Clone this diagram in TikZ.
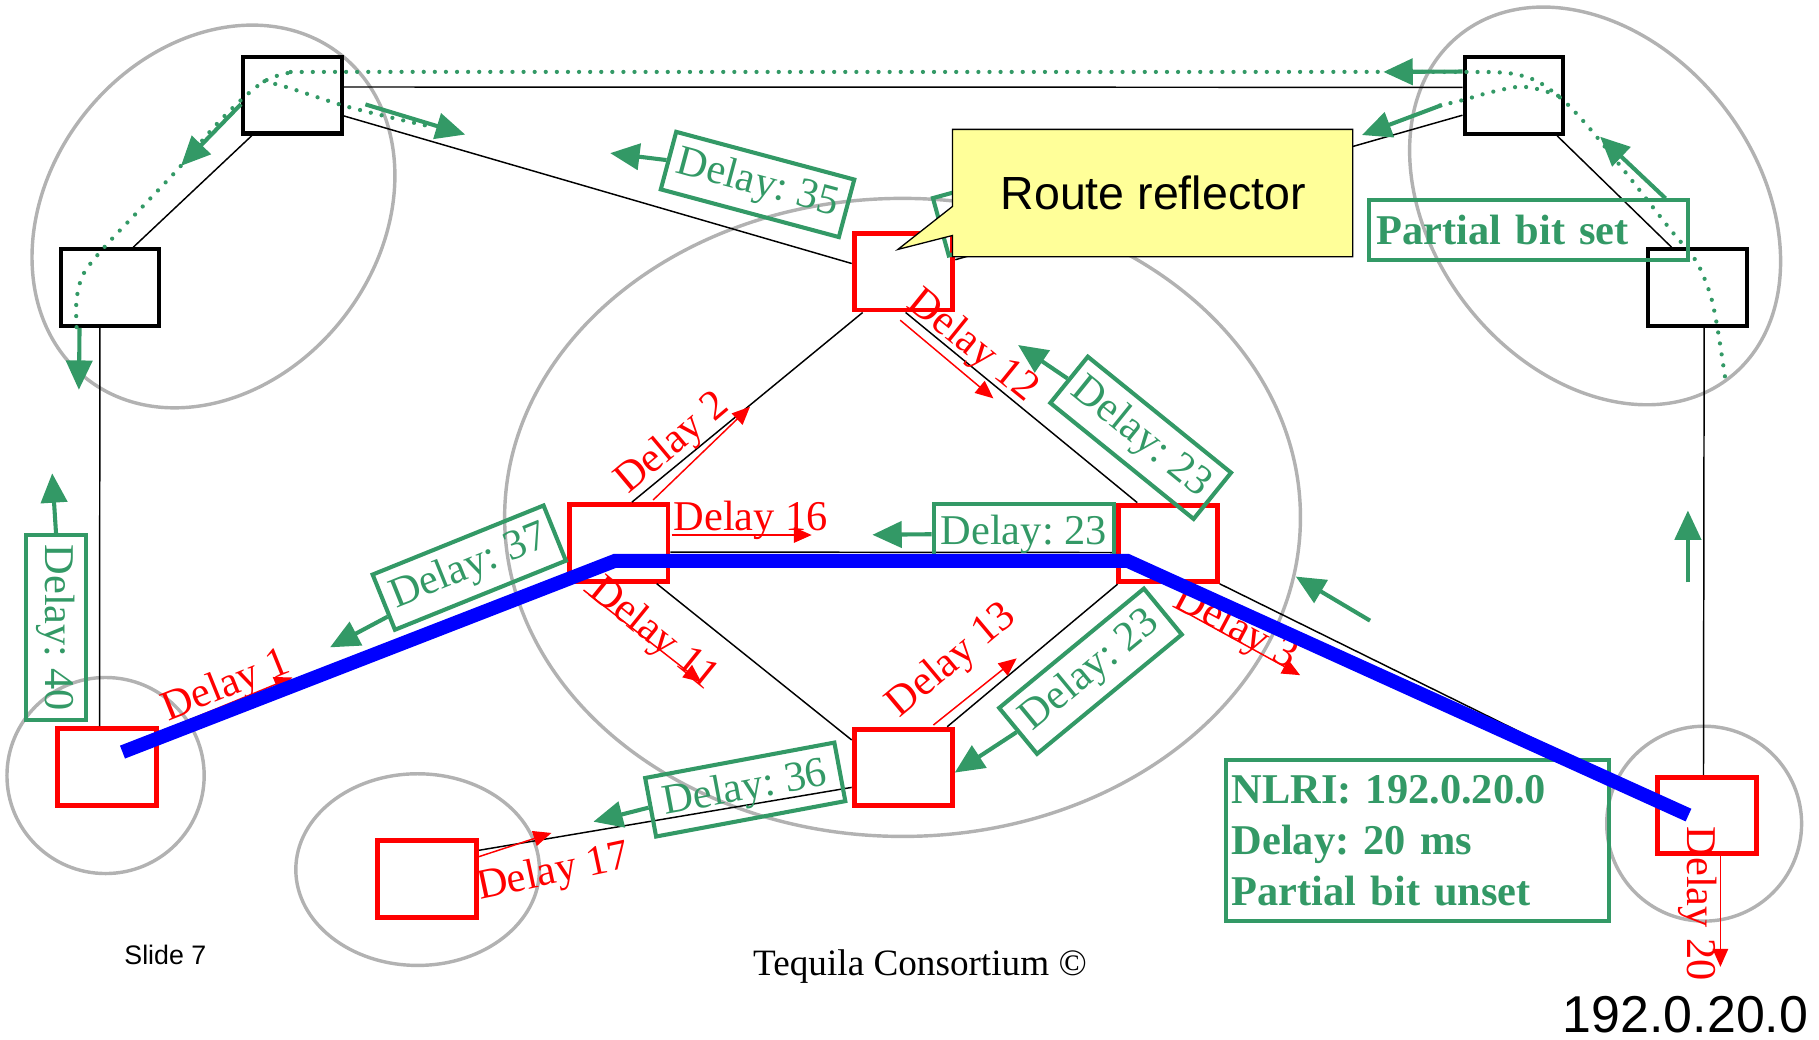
\documentclass[tikz,border=0pt]{standalone}
\usepackage{fontspec}
\setmainfont{Liberation Serif}
\newfontfamily\arialfont{Liberation Sans}
\usepackage{xcolor}
\definecolor{delaygreen}{RGB}{51,153,102}
\definecolor{domaingray}{RGB}{178,178,178}
\definecolor{rryellow}{RGB}{255,255,153}
\usetikzlibrary{arrows.meta}
\newcommand{\delayfont}{\fontsize{26pt}{31.3pt}\selectfont\frenchspacing}
\tikzset{
	cluster/.style={draw=domaingray, line width=2.1pt},
	router/.style={draw=black, line width=2.5pt, minimum width=60.5pt, minimum height=47pt, inner sep=0pt},
	rrouter/.style={router, draw=red, line width=3pt},
	linkline/.style={draw=black, line width=0.9pt},
	delaylabel/.style={text=red, font=\delayfont, inner sep=0pt},
	redarrow/.style={draw=red, line width=0.9pt, -{Triangle[length=11pt,width=9.5pt]}},
	delaybox/.style={draw=delaygreen, line width=2.5pt, text=delaygreen, font=\delayfont, minimum width=113pt, minimum height=36.5pt, inner sep=0pt},
	greenarrow/.style={draw=delaygreen, line width=2.5pt, -{Triangle[length=18pt,width=16pt]}},
	updates/.style={draw=delaygreen, line width=2.6pt, line cap=round, dash pattern=on 0pt off 6.8pt},
	infobox/.style={draw=delaygreen, line width=2.5pt, text=delaygreen, font=\bfseries\delayfont, align=left, inner ysep=0pt},
	bestpath/.style={draw=blue, line width=8.5pt},
	plaintext/.style={inner sep=0pt, anchor=base west}
}

\begin{document}
\begin{tikzpicture}[x=0.025cm, y=-0.025cm]
	\useasboundingbox (0,0) rectangle (1568,896);
	
	% Domains
	\draw[cluster, rotate around={52:(184,186.6)}] (184,186.6) ellipse [x radius=177.5, y radius=142];
	\draw[cluster] (778,446) ellipse [x radius=343, y radius=275];
	\draw[cluster, rotate around={-52:(1375,177.5)}] (1375,177.5) ellipse [x radius=188, y radius=140];
	\draw[cluster] (91,668.5) ellipse [x radius=85, y radius=84.5];
	\draw[cluster] (360,749.6) ellipse [x radius=105, y radius=82.6];
	\draw[cluster] (1469,710) ellipse [x radius=84, y radius=84];
	
	% Routers
	\node[router] (B1) at (252,82) {};
	\node[router] (B2) at (94.8,247.9) {};
	\node[router] (B3) at (1305,82.3) {};
	\node[router] (B4) at (1463.5,247.9) {};
	\node[rrouter] (R1) at (92,661) {};
	\node[rrouter] (R2) at (778.8,234.2) {};
	\node[rrouter] (R3) at (533.3,468) {};
	\node[rrouter] (R4) at (1006.8,468.4) {};
	\node[rrouter] (R5) at (778.8,661.6) {};
	\node[rrouter] (R6) at (368.3,757.7) {};
	\node[rrouter] (R7) at (1471.5,703) {};
	
	% Links
	\draw[linkline] (B1.9) -- (B3.171);
	\draw[linkline] (B1.338) -- (R2.171);
	\draw[linkline] (B2.60) -- (B1.225);
	\draw[linkline] (B2.256) -- (R1.100);
	\draw[linkline] (B3.201) -- (R2.13);
	\draw[linkline] (B3.317) -- (B4.123);
	\draw[linkline] (B4.279) -- (R7.95);
	\draw[linkline] (R2.225) -- (R3.72);
	\draw[linkline] (R2.273) -- (R4.127);
	\draw[linkline] (R3.350) -- (R4.190);
	\draw[linkline] (R3.313) -- (R5.152);
	\draw[linkline] (R4.219) -- (R5.43);
	\draw[linkline] (R4.322) -- (R7.162);
	\draw[linkline] (R5.201) -- (R6.29);
	
	% Route reflector
	\node[delaybox, rotate=15.4] (dhid) at (887.6,174.4) {};
	\coordinate (rrtip) at (774,215);
	\draw[line width=0.8pt, fill=rryellow] (821,111.5) -- (1166,111.5) -- (1166,221.3) -- (821,221.3) -- (821,203) -- (rrtip) -- (821,178) -- cycle;
	\node[font=\arialfont\fontsize{28.5pt}{34pt}\selectfont, inner sep=0pt] (rr) at (994,166.5) {Route reflector};
	
	% Delays (red)
	\path (150,626) coordinate (a1) (252,584) coordinate (b1)
	(563,431) coordinate (a2) (646.5,350.6) coordinate (b2)
	(579,461.2) coordinate (a16) (699.7,461.2) coordinate (b16)
	(503,508.6) coordinate (a11) (604.5,588) coordinate (b11)
	(776,276) coordinate (a12) (856.3,343.4) coordinate (b12)
	(804.6,625) coordinate (a13) (876.4,567.5) coordinate (b13)
	(1015.8,524.4) coordinate (a3) (1120.7,582) coordinate (b3)
	(409,739.7) coordinate (a17) (475.3,718) coordinate (b17)
	(1483,738) coordinate (a20) (1483,833.4) coordinate (b20);
	\draw[redarrow] (a1) -- (b1);
	\draw[redarrow] (a2) -- (b2);
	\draw[redarrow] (a16) -- (b16);
	\draw[redarrow] (a11) -- (b11);
	\draw[redarrow] (a12) -- (b12);
	\draw[redarrow] (a13) -- (b13);
	\draw[redarrow] (a3) -- (b3);
	\draw[redarrow] (a17) -- (b17);
	\draw[redarrow] (a20) -- (b20);
	\node[delaylabel, rotate=22] (lab1) at (195,592) {Delay 1};
	\node[delaylabel, rotate=40] (lab2) at (580,383) {Delay 2};
	\node[delaylabel, anchor=base west] (lab16) at (580.4,457.5) {Delay 16};
	\node[delaylabel, rotate=-39] (lab11) at (563,547) {Delay 11};
	\node[delaylabel, rotate=-39] (lab12) at (838,299) {Delay 12};
	\node[delaylabel, rotate=40] (lab13) at (821,570) {Delay 13};
	\node[delaylabel, rotate=-28] (lab3) at (1065,542) {Delay 3};
	\node[delaylabel, rotate=12] (lab17) at (477,753) {Delay 17};
	\node[delaylabel, rotate=-90] (lab20) at (1463,779) {Delay 20};
	
	% Updates (green)
	\node[delaybox, rotate=-15] (d35) at (653,159) {Delay: 35};
	\node[delaybox, rotate=22] (d37) at (404.5,489.3) {Delay: 37};
	\node[delaybox, rotate=-90] (d40) at (48.3,541) {Delay: 40};
	\node[delaybox, minimum width=110.6pt] (d23h) at (882.5,460.5) {Delay: 23};
	\node[delaybox, rotate=-39] (d23a) at (983.3,377.4) {Delay: 23};
	\node[delaybox, rotate=39.5, minimum width=115pt] (d23b) at (940,578.6) {Delay: 23};
	\node[delaybox, rotate=10.6, minimum width=118pt] (d36) at (642.4,680.6) {Delay: 36};
	\path (526,132) coordinate (t35) (284.5,558) coordinate (t37) (45,408) coordinate (t40)
	(752,461) coordinate (t23h) (877.6,297.4) coordinate (t23a) (823,666) coordinate (t23b)
	(511.5,708.3) coordinate (t36);
	\draw[greenarrow] (d35.west) -- (t35);
	\draw[greenarrow] (d37.189) -- (t37);
	\draw[greenarrow] (d40.west) -- (t40);
	\draw[greenarrow] (d23h.west) -- (t23h);
	\draw[greenarrow] (d23a.west) -- (t23a);
	\draw[greenarrow] (d23b.west) -- (t23b);
	\draw[greenarrow] (d36.west) -- (t36);
	
	% top right
	\node[infobox, text width=186pt, inner xsep=5pt, minimum height=36.3pt] (pbs) at (1317.5,198.3) {Partial bit set};
	% bottom right
	\node[infobox, text width=228pt, inner xsep=3.5pt, minimum height=98.7pt] (nlri) at (1222,724.9) {NLRI: 192.0.20.0\\Delay: 20 ms\\Partial bit unset};
	
	% partial updates
	\path (156,143) coordinate (g1) (68,336) coordinate (g2)
	(315,90) coordinate (g3a) (401,116) coordinate (g3b)
	(1192.5,62) coordinate (g4)
	(1243,90.5) coordinate (g5a) (1174,116.4) coordinate (g5b)
	(1379.3,117.8) coordinate (g6)
	(1455,502) coordinate (g7a) (1455,440) coordinate (g7b)
	(1181,535) coordinate (g8a) (1117,497) coordinate (g8b);
	\draw[updates] plot[smooth, tension=0.5] coordinates {(66,282) (66,258) (72,236) (90,213) (123,178) (155,144) (184,110) (208,86) (228,70) (248,63) (275,62) (600,62) (1000,62) (1255,62) (1300,63) (1325,70) (1347,86) (1368,108) (1400,147) (1440,198) (1462,225) (1474,253) (1480,280) (1487,325)};
	\draw[updates] plot[smooth, tension=0.5] coordinates {(228,70) (250,76) (296,91) (340,102) (371,109)};
	\draw[updates] plot[smooth, tension=0.5] coordinates {(1241,91) (1262,86) (1283,80) (1307,75) (1322,76) (1342,82) (1350,88)};
	\draw[greenarrow] (B1.190) -- (g1);
	\draw[greenarrow] (B2.233) -- (g2);
	\draw[greenarrow] (g3a) -- (g3b);
	\draw[greenarrow] (B3.155) -- (g4);
	\draw[greenarrow] (g5a) -- (g5b);
	\draw[greenarrow] (pbs.13.5) -- (g6);
	\draw[greenarrow] (g7a) -- (g7b);
	\draw[greenarrow] (g8a) -- (g8b);
	
	% best path
	\draw[bestpath] (105.6,648.3) -- (530,483.5) -- (972,483.5) -- (1455.5,702.6);
	
	% Footer
	\node[plaintext, font=\arialfont\fontsize{16.4pt}{19pt}\selectfont] (slide) at (107,831.6) {Slide 7};
	\node[plaintext, font=\fontsize{22.8pt}{27pt}\selectfont] (consortium) at (649,840.5) {Tequila Consortium ©};
	\node[plaintext, font=\arialfont\fontsize{31.8pt}{37pt}\selectfont] (prefix) at (1347,890) {192.0.20.0};
\end{tikzpicture}
\end{document}
